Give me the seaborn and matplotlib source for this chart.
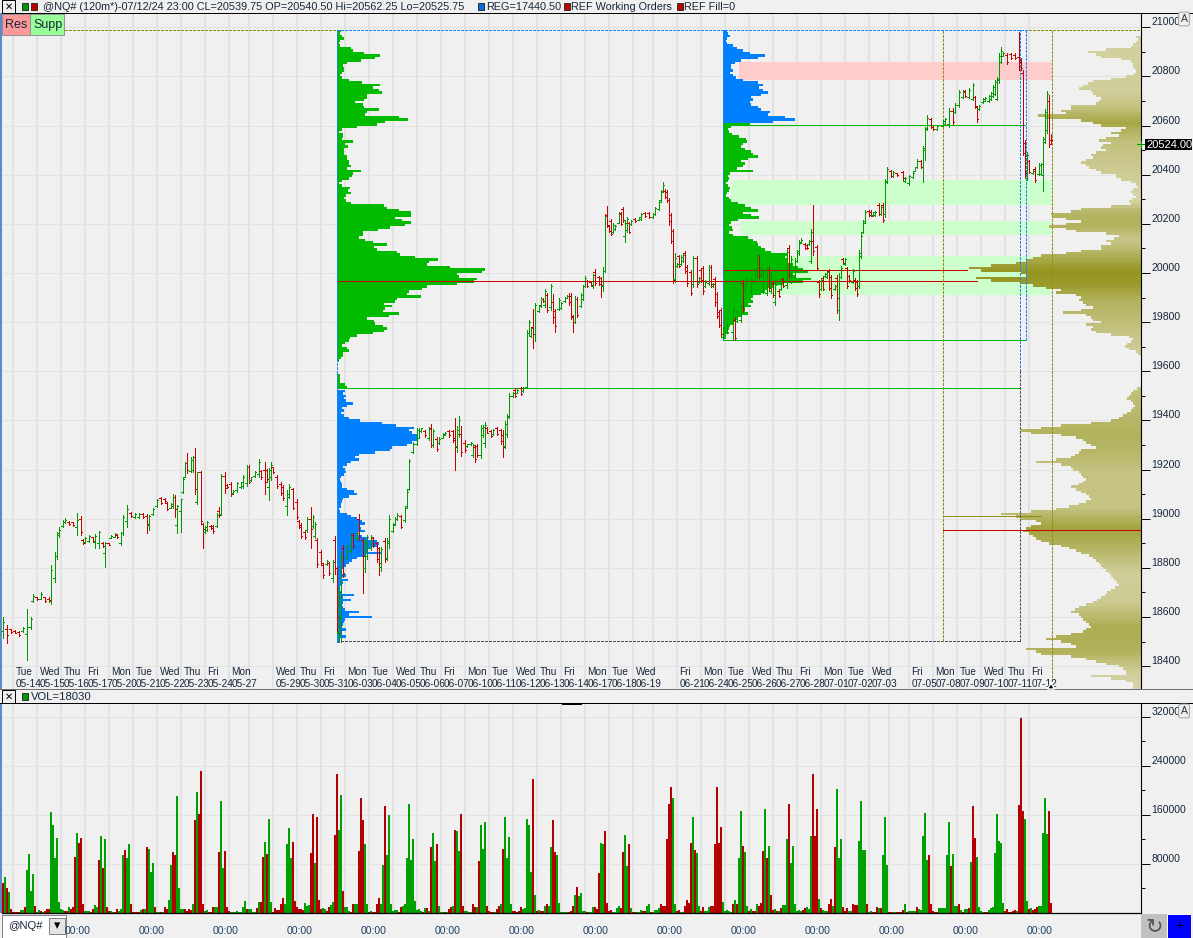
import numpy as np
import pandas as pd
import matplotlib
matplotlib.use("Agg")
import matplotlib.pyplot as plt
import seaborn as sns
from matplotlib.patches import Rectangle

# ---- price bars (2 hour bars, bar number along the time axis) ----
bar_index = [
    1, 3, 5, 7, 9, 11, 13, 15, 16, 18,
    20, 22, 24, 25, 27, 28, 29, 31, 32, 34,
    36, 38, 40, 41, 42, 44, 46, 47, 49, 51,
    52, 54, 55, 57, 58, 60, 61, 63, 65, 67,
    69, 71, 73, 74, 76, 78, 80, 82, 83, 85,
    86, 87, 88, 90, 91, 92, 93, 95, 96, 97,
    98, 100, 101, 102, 103, 105, 106, 108, 109, 110,
    112, 113, 115, 116, 118, 120, 121, 123, 124, 125,
    127, 129, 130, 132, 133, 134, 135, 136, 138, 140,
    141, 143, 144, 146, 148, 149, 150, 152, 153, 155,
    156, 157, 158, 160, 161, 163, 164, 166, 167, 168,
    169, 170, 171, 173, 175, 176, 178, 179, 181, 182,
    183, 185, 186, 188, 189, 190, 192, 193, 194, 196,
    197, 198, 200, 202, 203, 204, 206, 208, 209, 210,
    212, 214, 215, 216, 218, 219, 221, 222, 224, 226,
    227, 228, 229, 230, 232, 233, 235, 236, 237, 238,
    240, 241, 242, 243, 245, 246, 248, 250, 251, 252,
    253, 254, 256, 257, 258, 260, 261, 263, 264, 265,
    266, 267, 269, 270, 271, 272, 273, 275, 276, 277,
    279, 280, 282, 283, 284, 285, 286, 287, 288, 290,
    291, 292, 293, 295, 296, 297, 299, 300, 301, 302,
    303, 304, 305, 306, 307, 309, 310, 311, 312, 313,
    314, 315, 317, 319, 320, 322, 324, 326, 327, 329,
    330, 331, 332, 333, 334, 335, 336, 337, 338, 339,
    340, 341, 342, 343, 345, 346, 348, 349, 350, 351,
    352, 354, 355, 356, 357, 358, 359, 360, 361, 363,
    366, 367, 368, 370, 371, 372, 373, 375, 377, 378,
    379, 380, 381, 383, 384, 385, 386, 387, 389, 390,
    391, 393, 394, 395, 397, 398, 399, 400, 402, 403,
    404, 405, 406, 408, 409, 410, 411, 412, 413, 414,
    415, 417, 418, 419, 420, 421, 422, 423, 424, 426,
    427, 428, 429, 430, 431, 432, 434, 435, 436, 437,
    439, 440, 441, 442, 443, 445, 446, 448, 451, 452,
    454, 456, 457, 458, 460, 461, 462, 463, 465, 466,
    468, 471, 472, 474, 476, 477, 479, 481, 482, 484,
    486, 487, 488, 489, 491, 492, 494, 495, 496, 497,
    498, 499, 500, 501, 503, 505, 507, 509, 510, 511,
    512, 513, 514, 516, 517, 519, 520, 521, 522, 523,
    524, 525,
]
bar_high = [
    18601, 18567, 18553, 18547, 18544, 18560, 18631, 18601, 18693, 18682,
    18703, 18682, 18682, 18811, 18866, 18947, 18967, 18994, 19001, 18992,
    18988, 19022, 19011, 18916, 18927, 18933, 18927, 18938, 18951, 18906,
    18906, 18902, 18933, 18940, 18938, 18947, 19015, 19056, 19028, 19022,
    19022, 19022, 19019, 19015, 19042, 19079, 19087, 19083, 19069, 19062,
    19099, 19096, 19056, 19080, 19171, 19232, 19266, 19252, 19255, 19286,
    19191, 19195, 18981, 18970, 18992, 18974, 18974, 19022, 19046, 19182,
    19191, 19141, 19151, 19117, 19151, 19151, 19178, 19218, 19218, 19171,
    19195, 19241, 19198, 19232, 19202, 19205, 19229, 19212, 19178, 19151,
    19137, 19117, 19141, 19127, 19079, 18994, 18984, 18954, 19008, 19046,
    19015, 18988, 18920, 18872, 18818, 18832, 18825, 18834, 18929, 18805,
    18723, 18866, 18893, 18899, 18940, 18940, 18947, 19019, 18920, 18913,
    18933, 18933, 18927, 18906, 18886, 18886, 18920, 18920, 19015, 18981,
    19008, 19022, 19015, 19051, 19119, 19245, 19313, 19368, 19368, 19371,
    19361, 19374, 19385, 19367, 19333, 19333, 19347, 19354, 19361, 19363,
    19408, 19377, 19418, 19377, 19320, 19306, 19313, 19306, 19300, 19304,
    19381, 19381, 19394, 19374, 19361, 19367, 19374, 19367, 19361, 19398,
    19428, 19510, 19517, 19530, 19530, 19537, 19537, 19768, 19808, 19781,
    19852, 19876, 19869, 19903, 19897, 19933, 19917, 19955, 19914, 19852,
    19897, 19883, 19903, 19910, 19917, 19917, 19829, 19906, 19903, 19917,
    19951, 19987, 19971, 19964, 19996, 20015, 19987, 19985, 20023, 20240,
    20272, 20195, 20218, 20202, 20195, 20249, 20249, 20270, 20215, 20229,
    20209, 20215, 20222, 20229, 20245, 20249, 20249, 20243, 20270, 20297,
    20338, 20371, 20340, 20338, 20304, 20243, 20177, 20080, 20039, 20073,
    20073, 20080, 20089, 20032, 20012, 20069, 20069, 19985, 20019, 20028,
    19971, 20032, 20032, 19958, 19985, 19924, 19849, 19856, 19782, 19802,
    19863, 19822, 19849, 19870, 19972, 19978, 19985, 19978, 20019, 20073,
    20073, 20026, 20012, 20026, 20026, 20006, 19965, 19958, 19931, 19978,
    19978, 20100, 20114, 20069, 20060, 20094, 20134, 20141, 20121, 20114,
    20134, 20178, 20277, 20114, 19972, 19978, 19985, 20000, 20012, 20015,
    19992, 19951, 19992, 20000, 20029, 20060, 20060, 20026, 19992, 20015,
    19978, 19972, 20094, 20162, 20216, 20257, 20257, 20257, 20250, 20254,
    20284, 20277, 20284, 20381, 20433, 20419, 20413, 20408, 20413, 20392,
    20399, 20413, 20433, 20463, 20460, 20517, 20596, 20643, 20630, 20598,
    20603, 20623, 20630, 20670, 20670, 20691, 20745, 20745, 20745, 20752,
    20772, 20721, 20680, 20684, 20711, 20715, 20725, 20738, 20765, 20786,
    20799, 20894, 20919, 20901, 20894, 20894, 20894, 20982, 20874, 20826,
    20541, 20494, 20460, 20419, 20433, 20446, 20449, 20555, 20666, 20742,
    20725, 20566,
]
bar_low = [
    18513, 18495, 18533, 18533, 18522, 18540, 18427, 18553, 18662, 18669,
    18672, 18662, 18662, 18653, 18743, 18838, 18927, 18967, 18981, 18974,
    18970, 18933, 18933, 18897, 18902, 18906, 18906, 18879, 18879, 18886,
    18805, 18893, 18920, 18924, 18920, 18893, 18933, 18967, 19008, 19001,
    19001, 19001, 18940, 18956, 19015, 19049, 19060, 19069, 19035, 19042,
    19042, 19005, 18943, 18947, 19103, 19168, 19187, 19191, 19191, 19099,
    19060, 18981, 18882, 18940, 18951, 18960, 18943, 18965, 19008, 19015,
    19103, 19127, 19092, 19100, 19110, 19123, 19127, 19133, 19144, 19155,
    19171, 19171, 19160, 19100, 19151, 19076, 19157, 19184, 19127, 19096,
    19076, 19015, 19083, 19038, 18997, 18961, 18920, 18916, 18947, 18879,
    18961, 18920, 18805, 18811, 18760, 18811, 18770, 18743, 18777, 18533,
    18506, 18499, 18764, 18838, 18859, 18879, 18913, 18913, 18696, 18784,
    18838, 18872, 18886, 18825, 18770, 18788, 18825, 18832, 18879, 18947,
    18974, 18994, 18961, 18988, 19042, 19117, 19266, 19300, 19327, 19354,
    19333, 19320, 19293, 19293, 19276, 19304, 19327, 19340, 19333, 19313,
    19198, 19272, 19333, 19255, 19272, 19293, 19300, 19252, 19232, 19252,
    19249, 19333, 19293, 19347, 19333, 19340, 19340, 19306, 19252, 19286,
    19333, 19408, 19496, 19496, 19510, 19503, 19517, 19530, 19747, 19740,
    19693, 19724, 19842, 19863, 19883, 19863, 19842, 19849, 19795, 19761,
    19849, 19852, 19883, 19897, 19869, 19811, 19761, 19795, 19822, 19860,
    19890, 19941, 19944, 19951, 19937, 19951, 19951, 19903, 19928, 20005,
    20186, 20168, 20154, 20161, 20175, 20202, 20195, 20209, 20127, 20168,
    20161, 20195, 20209, 20215, 20215, 20229, 20222, 20222, 20236, 20256,
    20290, 20331, 20304, 20290, 20195, 20120, 19958, 19964, 20025, 20025,
    20032, 20046, 19998, 19948, 19910, 19944, 19944, 19958, 19964, 19914,
    19941, 19951, 19944, 19944, 19865, 19815, 19781, 19740, 19734, 19755,
    19727, 19727, 19802, 19802, 19843, 19924, 19951, 19917, 19958, 19985,
    19978, 19985, 19917, 19911, 19931, 19917, 19904, 19870, 19904, 19931,
    19944, 19938, 19978, 19958, 19978, 20046, 20073, 20121, 20096, 20096,
    20114, 20039, 20073, 20012, 19904, 19931, 19931, 19985, 19978, 19931,
    19897, 19931, 19836, 19809, 19978, 20039, 20033, 19938, 19965, 19958,
    19931, 19906, 19938, 20060, 20162, 20205, 20230, 20230, 20232, 20232,
    20236, 20236, 20209, 20229, 20368, 20392, 20392, 20395, 20379, 20372,
    20358, 20385, 20413, 20426, 20426, 20372, 20460, 20580, 20589, 20580,
    20582, 20598, 20603, 20596, 20607, 20650, 20677, 20711, 20718, 20711,
    20704, 20670, 20616, 20664, 20691, 20698, 20694, 20704, 20718, 20725,
    20702, 20772, 20854, 20881, 20851, 20870, 20870, 20826, 20826, 20480,
    20392, 20379, 20406, 20403, 20372, 20399, 20399, 20335, 20528, 20569,
    20514, 20525,
]
bar_open = [
    18545, 18550, 18550, 18545, 18540, 18545, 18530, 18560, 18665, 18680,
    18675, 18680, 18675, 18665, 18760, 18850, 18935, 18970, 18985, 18988,
    18985, 18965, 19000, 18912, 18905, 18910, 18925, 18905, 18900, 18903,
    18860, 18900, 18922, 18926, 18935, 18900, 18940, 18990, 19025, 19005,
    19008, 19020, 19012, 18975, 19018, 19052, 19085, 19080, 19065, 19045,
    19050, 19090, 18975, 19030, 19110, 19170, 19225, 19195, 19200, 19250,
    19070, 19190, 18980, 18945, 18955, 18972, 18970, 18970, 19030, 19020,
    19175, 19138, 19140, 19103, 19115, 19128, 19135, 19145, 19212, 19158,
    19175, 19180, 19195, 19200, 19198, 19130, 19170, 19210, 19170, 19140,
    19130, 19050, 19090, 19120, 19070, 18990, 18975, 18945, 18955, 19000,
    18970, 18930, 18915, 18865, 18810, 18815, 18820, 18760, 18915, 18800,
    18540, 18600, 18880, 18845, 18870, 18935, 18920, 19000, 18915, 18800,
    18850, 18880, 18920, 18900, 18880, 18805, 18910, 18840, 18900, 18950,
    18978, 18998, 19010, 18995, 19050, 19120, 19270, 19305, 19330, 19358,
    19358, 19330, 19370, 19300, 19325, 19308, 19330, 19343, 19355, 19355,
    19330, 19295, 19345, 19345, 19310, 19296, 19302, 19260, 19290, 19295,
    19260, 19340, 19310, 19370, 19358, 19343, 19370, 19360, 19340, 19295,
    19345, 19415, 19500, 19525, 19512, 19532, 19520, 19535, 19755, 19745,
    19780, 19750, 19845, 19870, 19895, 19870, 19910, 19860, 19880, 19845,
    19855, 19858, 19886, 19899, 19905, 19905, 19820, 19800, 19895, 19865,
    19895, 19945, 19968, 19962, 19945, 20005, 19985, 19980, 19945, 20010,
    20235, 20193, 20210, 20165, 20178, 20205, 20245, 20262, 20150, 20175,
    20205, 20198, 20220, 20217, 20218, 20246, 20245, 20226, 20240, 20260,
    20295, 20335, 20335, 20330, 20295, 20235, 20170, 19975, 20028, 20068,
    20036, 20050, 20080, 20025, 20005, 19955, 20060, 19962, 20012, 20020,
    19945, 19958, 20025, 19946, 19975, 19915, 19840, 19850, 19740, 19760,
    19760, 19810, 19806, 19810, 19960, 19930, 19955, 19925, 19965, 19990,
    20060, 19990, 19925, 19920, 20015, 19925, 19958, 19880, 19928, 19936,
    19975, 19950, 20100, 19965, 19985, 20050, 20080, 20124, 20118, 20112,
    20116, 20050, 20130, 20105, 19965, 19935, 19980, 19988, 19982, 20008,
    19985, 19934, 19980, 19850, 19985, 20055, 20036, 20020, 19988, 19963,
    19972, 19965, 19945, 20070, 20165, 20210, 20252, 20250, 20235, 20236,
    20278, 20240, 20275, 20240, 20375, 20415, 20395, 20406, 20410, 20375,
    20365, 20390, 20415, 20430, 20455, 20430, 20500, 20590, 20625, 20595,
    20585, 20600, 20606, 20605, 20660, 20655, 20685, 20715, 20740, 20716,
    20710, 20715, 20675, 20667, 20694, 20700, 20698, 20708, 20722, 20730,
    20710, 20785, 20860, 20885, 20888, 20890, 20888, 20880, 20868, 20815,
    20530, 20385, 20455, 20405, 20425, 20403, 20404, 20400, 20535, 20580,
    20700, 20541,
]
bar_close = [
    18580, 18525, 18540, 18535, 18525, 18555, 18560, 18590, 18685, 18672,
    18695, 18665, 18668, 18790, 18850, 18940, 18955, 18985, 18995, 18978,
    18975, 18995, 18945, 18900, 18920, 18928, 18910, 18930, 18945, 18890,
    18900, 18895, 18930, 18936, 18925, 18940, 19005, 19040, 19010, 19018,
    19018, 19005, 18980, 19010, 19038, 19075, 19065, 19072, 19040, 19058,
    19090, 19040, 19050, 19080, 19160, 19225, 19200, 19240, 19250, 19120,
    19190, 18990, 18960, 18965, 18985, 18962, 18950, 19015, 19015, 19175,
    19125, 19130, 19100, 19113, 19145, 19148, 19170, 19210, 19150, 19168,
    19190, 19230, 19170, 19150, 19160, 19200, 19220, 19190, 19135, 19105,
    19085, 19100, 19130, 19045, 19005, 18965, 18930, 18925, 19000, 18960,
    19005, 18980, 18815, 18820, 18770, 18828, 18780, 18825, 18800, 18600,
    18700, 18840, 18780, 18890, 18930, 18890, 18940, 18925, 18850, 18900,
    18925, 18925, 18892, 18835, 18820, 18878, 18835, 18910, 19000, 18975,
    19000, 19015, 18965, 19045, 19110, 19235, 19305, 19360, 19355, 19368,
    19340, 19365, 19300, 19355, 19285, 19325, 19342, 19350, 19340, 19320,
    19290, 19360, 19400, 19270, 19280, 19303, 19310, 19300, 19245, 19260,
    19370, 19375, 19380, 19350, 19338, 19362, 19345, 19315, 19290, 19385,
    19420, 19500, 19513, 19500, 19525, 19508, 19533, 19755, 19800, 19775,
    19750, 19870, 19865, 19895, 19885, 19925, 19850, 19945, 19820, 19785,
    19890, 19878, 19900, 19907, 19880, 19825, 19800, 19895, 19830, 19910,
    19945, 19980, 19948, 19953, 19990, 19960, 19955, 19950, 20010, 20230,
    20195, 20172, 20160, 20195, 20190, 20240, 20200, 20215, 20205, 20220,
    20168, 20212, 20211, 20226, 20240, 20232, 20226, 20240, 20265, 20290,
    20330, 20360, 20310, 20298, 20210, 20130, 19970, 20060, 20036, 20030,
    20066, 20075, 20010, 19960, 19920, 20060, 19955, 19980, 19970, 19925,
    19965, 20025, 19955, 19955, 19880, 19825, 19790, 19750, 19775, 19795,
    19850, 19735, 19845, 19860, 19855, 19970, 19980, 19970, 20010, 20060,
    19990, 20020, 20005, 20015, 19940, 19995, 19912, 19950, 19908, 19972,
    19948, 20085, 19990, 20055, 20050, 20088, 20125, 20136, 20100, 20100,
    20130, 20165, 20090, 20020, 19915, 19970, 19935, 19997, 20005, 19940,
    19910, 19948, 19900, 19985, 20020, 20042, 20055, 19945, 19970, 20008,
    19938, 19915, 20080, 20150, 20205, 20250, 20235, 20233, 20247, 20250,
    20242, 20270, 20215, 20370, 20425, 20396, 20410, 20397, 20385, 20388,
    20395, 20408, 20430, 20455, 20430, 20510, 20585, 20630, 20595, 20585,
    20598, 20618, 20625, 20660, 20615, 20685, 20735, 20738, 20722, 20745,
    20765, 20680, 20625, 20680, 20706, 20712, 20720, 20732, 20758, 20778,
    20790, 20885, 20905, 20897, 20860, 20875, 20873, 20860, 20835, 20490,
    20405, 20480, 20412, 20416, 20380, 20440, 20444, 20545, 20655, 20730,
    20525, 20540,
]

# ---- volume, in thousands, one row per session, first bar is bar 1 ----
volume_k = [
    49, 59, 41, 35, 6, 2, 2, 2, 2, 5, 5, 9,
    70, 96, 36, 63, 12, 2, 5, 3, 2, 4, 7, 7,
    165, 143, 90, 123, 18, 7, 5, 4, 4, 9, 7, 9,
    92, 131, 115, 123, 14, 3, 3, 3, 2, 7, 13, 9,
    87, 126, 74, 121, 10, 4, 4, 2, 2, 7, 4, 7,
    94, 103, 89, 113, 14, 2, 2, 2, 1, 5, 7, 7,
    108, 105, 67, 82, 9, 2, 2, 2, 1, 10, 7, 22,
    79, 100, 94, 191, 41, 7, 7, 7, 3, 7, 5, 15,
    152, 198, 162, 231, 14, 3, 5, 2, 2, 10, 10, 10,
    100, 183, 74, 102, 10, 4, 2, 1, 1, 3,
    2, 2, 10, 20, 7, 7, 7, 2, 2, 8, 18, 18,
    92, 116, 97, 154, 18, 2, 8, 5, 5, 15, 24, 14,
    112, 138, 89, 116, 20, 10, 7, 7, 5, 16, 12, 13,
    98, 162, 81, 156, 22, 7, 8, 7, 3, 10, 13, 18,
    128, 227, 136, 193, 36, 10, 10, 3, 2, 15, 14, 14,
    102, 188, 151, 112, 15, 2, 4, 2, 2, 14, 25, 15,
    79, 174, 94, 160, 14, 3, 5, 5, 2, 10, 12, 15,
    89, 178, 87, 121, 20, 5, 7, 3, 2, 8, 8, 3,
    107, 131, 85, 113, 12, 2, 2, 1, 2, 7, 10, 12,
    136, 134, 102, 162, 12, 4, 3, 1, 1, 14, 10, 10,
    85, 143, 105, 149, 12, 3, 2, 2, 1, 7, 11, 15,
    105, 157, 89, 124, 14, 3, 3, 2, 3, 9, 7, 8,
    154, 144, 67, 219, 30, 3, 5, 4, 4, 12, 14, 12,
    107, 151, 100, 95, 17, 1, 1, 1, 1, 2, 3, 12,
    30, 43, 28, 33, 4, 4, 2, 1, 1, 10, 10, 7,
    66, 115, 113, 134, 17, 3, 5, 2, 1, 8, 11, 8,
    100, 128, 77, 112, 8, 2, 2, 1, 1, 5,
    3, 3, 12, 14, 2, 1, 5, 5, 8, 14, 12, 11,
    121, 178, 205, 187, 14, 3, 5, 2, 2, 12, 22, 16,
    115, 156, 103, 98, 12, 3, 10, 3, 3, 10, 12, 11,
    113, 206, 115, 141, 18, 3, 5, 3, 1, 15, 22, 15,
    89, 167, 110, 100, 12, 3, 7, 3, 3, 15, 12, 17,
    102, 170, 89, 110, 30, 5, 7, 3, 3, 8, 13, 13,
    121, 178, 82, 110, 14, 3, 5, 3, 5, 8, 10, 7,
    126, 227, 126, 169, 23, 8, 5, 3, 3, 15, 23, 12,
    107, 203, 90, 121, 10, 4, 8, 3, 3, 14, 13, 13,
    118, 183, 103, 103, 15, 2, 3, 2, 2, 10, 8, 8,
    94, 157, 79, 2, 2, 1, 1, 1, 2, 2,
    5, 14, 2, 3, 3, 3, 3, 10, 7, 5,
    125, 164, 87, 94, 14, 3, 2, 2, 8, 8, 8, 8,
    94, 149, 77, 97, 12, 12, 14, 5, 2, 7, 7, 8,
    84, 175, 123, 92, 10, 3, 2, 1, 1, 5, 8, 9,
    98, 162, 118, 115, 17, 3, 6, 2, 2, 3, 5, 4,
    177, 319, 167, 154, 20, 7, 8, 5, 7, 10, 12, 12,
    131, 187, 129, 167, 17,
]
volume_side = (
    "rgrgrrrrrggr" "ggggrggrgrrr" "gggggggrrgrr" "rgrrrgggrrgg" "rgrgrrggrrgg"
    "grggrrrrrgrg" "rgggrggrgrrg" "grrggggrrrrg" "rgrrrggrrrgg" "rggrrrgggg"
    "ggggrggggrgr" "rgrggrrrrrrg" "gggrrrrrrggg" "rrgrrrggrrgg" "rrggrgggrrgg"
    "rrrggrgrrrrg" "grggggggrrgg" "ggggggggrgrg" "rggrgggrgrrg" "rggrrggggrrg"
    "rgggrrrrgrrg" "rggggrrrrrgg" "gggrgrgrrgrg" "grrggggggrrr" "grggggrgggrr"
    "rggrrrrggggr" "rggrgrrggg" "rrggrggggrrr" "rrrggrrggrrr" "rgrggrrgggrr"
    "rrrrgggggrgr" "ggrggrgrrgrr" "rgrgrrgrgrgg" "grggggggrrgg" "grrrgrgggrrg"
    "rgggrrrggrrr" "ggggrggrrrgr" "gggrrggrrr" "rgrggggrgg" "gggrrrrrgggg"
    "ggrgggrgrggr" "grrggggrrggg" "gggggrrrrrrg" "rrrggrgrrrgg" "gggrr"
)

# ---- volume at price profiles, one value per 10 point row ----
profile_a_upper = [
    4, 3, 5, 7, 3, 2, 3, 14, 16, 27, 43, 38, 24, 10, 6, 7, 7, 5, 3, 5,
    12, 25, 43, 36, 42, 45, 30, 30, 27, 18, 26, 27, 42, 30, 28, 62, 71, 48, 40, 20,
    5, 2, 6, 6, 5, 16, 8, 11, 7, 7, 7, 10, 10, 12, 12, 14, 10, 24, 16, 15,
    12, 5, 2, 5, 13, 11, 14, 9, 7, 9, 14, 47, 50, 62, 74, 74, 58, 65, 74, 68,
    53, 41, 26, 26, 22, 28, 36, 50, 37, 40, 60, 63, 78, 101, 92, 90, 113, 148, 145, 120,
    122, 140, 137, 120, 90, 85, 72, 70, 84, 60, 58, 47, 55, 48, 46, 62, 52, 30, 37, 38,
    46, 50, 47, 36, 20, 13, 12, 8, 5, 10, 12, 6, 6, 4, 2, 0, 0, 0, 0, 0,
    3, 3, 3, 3, 8, 10,
]
profile_a_lower = [
    8, 6, 9, 7, 9, 16, 10, 5, 7, 4, 7, 12, 23, 45, 59, 77, 72, 75, 80, 80,
    80, 75, 70, 55, 53, 38, 22, 18, 22, 14, 10, 6, 8, 9, 7, 4, 3, 4, 5, 5,
    10, 17, 20, 12, 6, 5, 4, 4, 2, 3, 10, 14, 20, 25, 28, 22, 24, 28, 20, 25,
    30, 40, 42, 40, 35, 30, 45, 28, 20, 15, 12, 9, 6, 5, 5, 9, 5, 11, 6, 4,
    3, 2, 4, 17, 6, 14, 6, 4, 6, 8, 22, 12, 35, 8, 7, 6, 4, 9, 5, 4,
    9, 3, 3,
]
profile_b_upper = [
    4, 5, 7, 4, 3, 4, 10, 14, 20, 27, 42, 35, 18, 12, 8, 8, 10, 7, 10, 13,
    20, 35, 40, 36, 40, 45, 38, 28, 30, 27, 28, 35, 38, 47, 45, 62, 72, 50, 27,
]
profile_b_lower = [
    27, 8, 5, 6, 9, 16, 23, 24, 20, 18, 22, 28, 30, 35, 25, 18, 22, 20, 14, 30,
    7, 5, 6, 5, 3, 5, 7, 6, 4, 3, 6, 8, 15, 22, 28, 35, 20, 28, 36, 15,
    8, 6, 9, 10, 6, 10, 25, 30, 34, 35, 38, 42, 48, 65, 62, 65, 65, 70, 75, 80,
    85, 70, 72, 88, 80, 60, 50, 45, 42, 38, 30, 28, 30, 25, 28, 22, 22, 25, 18, 15,
    12, 10, 7, 6, 5, 6, 3, 3,
]
profile_all_upper = [
    5, 3, 5, 8, 10, 35, 53, 45, 40, 20, 10, 8, 8, 6, 5, 7, 15, 30, 48, 53,
    58, 62, 50, 48, 45, 40, 42, 45, 70, 70, 80, 75, 103, 95, 60, 48, 40, 15, 20, 30,
    22, 35, 42, 30, 38, 40, 35, 45, 50, 48, 55, 60, 55, 52, 45, 40, 25, 25, 20, 10,
    5, 3, 8, 10, 8, 5, 9, 12, 10, 30, 60, 70, 90, 88, 75, 60, 75, 92, 75, 65,
    35, 22, 27, 35, 30, 40, 40, 60, 75, 100, 108, 115, 125, 150, 172, 160, 120, 115, 165, 150,
    120, 108, 95, 80, 85, 65, 60, 62, 58, 55, 48, 60, 78, 55, 50, 48, 40, 55, 48, 50,
    45, 30, 12, 8, 10, 14, 16, 12, 5, 3,
]
profile_all_lower = [
    0, 0, 0, 0, 0, 0, 0, 0, 0, 0, 0, 4, 8, 10, 12, 14, 10, 8, 6, 8,
    10, 14, 18, 22, 30, 50, 80, 100, 120, 110, 80, 65, 58, 55, 50, 45, 60, 62, 66, 70,
    85, 105, 80, 70, 68, 62, 60, 58, 55, 58, 62, 70, 65, 60, 55, 52, 50, 55, 62, 72,
    85, 110, 140, 125, 120, 105, 100, 110, 115, 118, 112, 108, 105, 100, 92, 80, 72, 65, 60, 52,
    48, 45, 42, 40, 38, 35, 32, 30, 28, 26, 24, 22, 26, 30, 34, 36, 40, 44, 48, 55,
    62, 66, 70, 62, 60, 58, 55, 52, 50, 55, 58, 70, 85, 95, 80, 70, 65, 115, 105, 100,
    70, 55, 45, 35, 22, 18, 15, 15, 50, 30, 15, 8, 8, 8,
]
# how dark the combined profile is drawn at a given price
shade_price = [18305, 18375, 18460, 18560, 18660, 18780, 18880, 18960, 19045, 19185, 19290, 19350,
               19660, 19765, 19890, 19950, 20005, 20075, 20135, 20195, 20245, 20300, 20420, 20540,
               20610, 20680, 20740, 20960]
shade_level = [0.1, 0.2, 0.6, 0.65, 0.25, 0.2, 0.55, 0.8, 0.35, 0.35, 0.55, 0.6,
               0.2, 0.35, 0.6, 0.9, 1.0, 0.6, 0.3, 0.6, 0.55, 0.1, 0.25, 0.4,
               0.75, 0.35, 0.2, 0.15]

# ---- support / resistance zones ----
zone_low = [20784, 20277, 20155, 19910]
zone_high = [20860, 20378, 20212, 20069]
zone_start = [369, 365, 370, 365]
zone_color = ["#ffcccc", "#ccffcc", "#ccffcc", "#ccffcc"]
zone_end = 525.5

# ---- time axis ----
grid_bars = [6, 18, 30, 42, 54, 66, 78, 90, 102, 114, 124, 136, 148, 160, 172, 184, 196, 208, 220, 232,
             244, 256, 268, 280, 292, 304, 316, 326, 338, 350, 362, 374, 386, 398, 410, 422, 434, 444,
             454, 466, 478, 490, 502, 514]
label_bars = [7.5, 19.5, 31.5, 43.5, 55.5, 67.5, 79.5, 91.5, 103.5, 115.5,
              137.5, 149.5, 161.5, 173.5, 185.5, 197.5, 209.5, 221.5, 233.5, 245.5,
              257.5, 269.5, 281.5, 293.5, 305.5, 317.5,
              339.5, 351.5, 363.5, 375.5, 387.5, 399.5, 411.5, 423.5, 435.5,
              455.5, 467.5, 479.5, 491.5, 503.5, 515.5]
day_names = ["Tue", "Wed", "Thu", "Fri", "Mon", "Tue", "Wed", "Thu", "Fri", "Mon",
             "Wed", "Thu", "Fri", "Mon", "Tue", "Wed", "Thu", "Fri", "Mon", "Tue",
             "Wed", "Thu", "Fri", "Mon", "Tue", "Wed",
             "Fri", "Mon", "Tue", "Wed", "Thu", "Fri", "Mon", "Tue", "Wed",
             "Fri", "Mon", "Tue", "Wed", "Thu", "Fri"]
day_dates = ["05-14", "05-15", "05-16", "05-17", "05-20", "05-21", "05-22", "05-23", "05-24", "05-27",
             "05-29", "05-30", "05-31", "06-03", "06-04", "06-05", "06-06", "06-07", "06-10", "06-11",
             "06-12", "06-13", "06-14", "06-17", "06-18", "06-19",
             "06-21", "06-24", "06-25", "06-26", "06-27", "06-28", "07-01", "07-02", "07-03",
             "07-05", "07-08", "07-09", "07-10", "07-11", "07-12"]
time_tick_bars = [31.5, 68.5, 105.5, 142.5, 179.5, 216.5, 253.5, 290.5, 327.5, 364.5,
                  401.5, 438.5, 475.5, 512.5]

WIDTH, HEIGHT = 1193, 938
GREEN, RED = "#009900", "#c80000"
BACK, GRID = "#f0f0f0", "#e2e2e2"
TEXT = "#16263a"
XLIM = (0.75, 570.25)
THIN = 0.7  # one pixel at 100 dpi

sns.set_theme(style="white", rc={"axes.facecolor": BACK, "figure.facecolor": BACK})
plt.rcParams["font.family"] = ["Liberation Sans", "DejaVu Sans"]

fig = plt.figure(figsize=(WIDTH / 100, HEIGHT / 100), dpi=100)


def axes_at(left, top, right, bottom):
    return fig.add_axes([left / WIDTH, 1 - bottom / HEIGHT, (right - left) / WIDTH, (bottom - top) / HEIGHT])


def box(left, top, w, h, color, edge="none", lw=0.7, z=5):
    fig.add_artist(Rectangle((left / WIDTH, 1 - (top + h) / HEIGHT), w / WIDTH, h / HEIGHT,
                             transform=fig.transFigure, fc=color, ec=edge, lw=lw, zorder=z))


def label(px, py, text, size=8, color=TEXT, **kw):
    kw.setdefault("va", "center")
    fig.text(px / WIDTH, 1 - py / HEIGHT, text, fontsize=size, color=color, zorder=7, **kw)


def style_axis(ax):
    ax.set_xlim(*XLIM)
    ax.set_facecolor(BACK)
    ax.yaxis.tick_right()
    for side in ("top", "left", "bottom"):
        ax.spines[side].set_visible(False)
    ax.spines["right"].set_color("black")
    ax.spines["right"].set_linewidth(0.8)
    ax.tick_params(axis="y", which="major", length=6.5, width=0.7, color="black", labelsize=7.6,
                   labelcolor=TEXT, pad=1, direction="out")
    ax.tick_params(axis="y", which="minor", length=3, width=0.7, color="black", direction="out")
    ax.vlines(grid_bars, 0, 1, transform=ax.get_xaxis_transform(), color=GRID, lw=1.45, zorder=0.5)


# ---- price panel ----
ax = axes_at(2, 13, 1141, 689)
ax.set_ylim(18307, 21058)
style_axis(ax)
major_prices = list(range(18400, 21001, 200))
ax.set_yticks(major_prices)
ax.set_yticks([p + 100 for p in major_prices[:-1]], minor=True)
for tick_label in ax.get_yticklabels():
    tick_label.set_va("bottom")
ax.hlines(major_prices, *XLIM, color=GRID, lw=0.8, zorder=0.6)

for low, high, start, color in zip(zone_low, zone_high, zone_start, zone_color):
    ax.fill_between([start, zone_end], low, high, color=color, lw=0, zorder=1)


def draw_profile(values, top_price, start_bar, color):
    prices = top_price - 10 * np.arange(len(values))
    ax.barh(prices, np.array(values) / 2, height=10.5, left=start_bar, color=color, lw=0, zorder=2,
            antialiased=False)


draw_profile(profile_a_upper, 20985, 168, "#00bb00")
draw_profile(profile_a_lower, 19520, 168, "#0080ff")
draw_profile(profile_b_upper, 20985, 361, "#0080ff")
draw_profile(profile_b_lower, 20605, 361, "#00bb00")

light = np.array(matplotlib.colors.to_rgb("#dedcb8"))
dark = np.array(matplotlib.colors.to_rgb("#94941e"))
for values, top_price in ((profile_all_upper, 20960), (profile_all_lower, 19640)):
    row_prices = top_price - 10 * np.arange(len(values))
    shades = np.interp(row_prices, shade_price, shade_level)
    row_colors = [light + (dark - light) * s for s in shades]
    ax.barh(row_prices, -np.array(values) / 2, height=10.5, left=570.25, color=row_colors, lw=0, zorder=2,
            antialiased=False)

# drawn levels and their dashed boxes
dash = (0, (3, 2))
ax.hlines([20602, 19727], 361, 512, color="#00bb00", lw=THIN, zorder=3, antialiased=False)
ax.hlines(19532, 168, 509, color="#00bb00", lw=THIN, zorder=3, antialiased=False)
ax.hlines(19969, 168, 488, color="#cc0000", lw=THIN, zorder=3, antialiased=False)
ax.hlines(20011, 361, 483, color="#cc0000", lw=THIN, zorder=3, antialiased=False)
ax.hlines(18954, 471, 570, color="#cc0000", lw=THIN, zorder=3, antialiased=False)
ax.hlines(19011, 471, 520, color="#8f8f1a", lw=THIN, zorder=3, antialiased=False)
ax.hlines(20989, 32, 570, color="#8f8f1a", lw=THIN, linestyles=dash, zorder=3, antialiased=False)
ax.hlines(20989, 168, 513, color="#1e82f0", lw=THIN, linestyles=dash, zorder=3.1, antialiased=False)
ax.hlines(18502, 168, 510, color="#505050", lw=THIN, linestyles=dash, zorder=3, antialiased=False)
ax.vlines(168, 18502, 20989, color="#1e82f0", lw=THIN, linestyles=dash, zorder=3, antialiased=False)
ax.vlines(361, 19727, 20989, color="#1e82f0", lw=THIN, linestyles=dash, zorder=3, antialiased=False)
ax.vlines(471, 18502, 20989, color="#8f8f1a", lw=THIN, linestyles=dash, zorder=3, antialiased=False)
ax.vlines(509.5, 19600, 20989, color="#1e82f0", lw=THIN, linestyles=dash, zorder=3, antialiased=False)
ax.vlines(509.5, 18502, 19600, color="#505050", lw=THIN, linestyles=dash, zorder=3, antialiased=False)
ax.vlines(512.5, 19727, 20989, color="#1e82f0", lw=THIN, linestyles=dash, zorder=3, antialiased=False)
ax.vlines(525.5, 18340, 20989, color="#8f8f1a", lw=THIN, linestyles=dash, zorder=3, antialiased=False)

bars = pd.DataFrame({"bar": bar_index, "open": bar_open, "high": bar_high, "low": bar_low, "close": bar_close})
bar_colors = np.where(bars["close"] >= bars["open"], GREEN, RED)
ax.vlines(bars["bar"], bars["low"], bars["high"], colors=bar_colors, lw=THIN, zorder=4, antialiased=False)
ax.hlines(bars["open"], bars["bar"] - 0.9, bars["bar"], colors=bar_colors, lw=THIN, zorder=4, antialiased=False)
ax.hlines(bars["close"], bars["bar"], bars["bar"] + 0.9, colors=bar_colors, lw=THIN, zorder=4, antialiased=False)

for bar, name, date in zip(label_bars, day_names, day_dates):
    ax.text(bar, 18376, name, fontsize=7.2, color=TEXT, va="center", ha="left", zorder=6)
    ax.text(bar, 18329, date, fontsize=7.2, color=TEXT, va="center", ha="left", zorder=6)

# ---- volume panel ----
ax_vol = axes_at(2, 703, 1141, 913)
volume_df = pd.DataFrame({"bar": np.arange(1, len(volume_k) + 1), "volume": np.array(volume_k) * 1000,
                          "side": list(volume_side)})
sns.barplot(data=volume_df, x="bar", y="volume", hue="side", palette={"g": "#00a000", "r": "#b40000"},
            native_scale=True, dodge=False, width=1, saturation=1, errorbar=None, linewidth=0,
            legend=False, ax=ax_vol)
for patch in ax_vol.patches:
    patch.set_antialiased(False)
style_axis(ax_vol)
ax_vol.set_ylim(0, 342800)
ax_vol.set_xlabel("")
ax_vol.set_ylabel("")
ax_vol.set_yticks([80000, 160000, 240000, 320000], labels=["80000", "160000", "240000", "32000"])
ax_vol.set_yticks([40000, 120000, 200000, 280000], minor=True)
for tick_label in ax_vol.get_yticklabels():
    tick_label.set_va("bottom")
ax_vol.hlines([80000, 160000, 240000, 320000], *XLIM, color=GRID, lw=0.8, zorder=0.6)
ax_vol.spines["bottom"].set_visible(True)
ax_vol.spines["bottom"].set_color("black")
ax_vol.spines["bottom"].set_linewidth(0.9)
ax_vol.set_xticks(time_tick_bars + [b + 0.75 for b in time_tick_bars], labels=[])
ax_vol.tick_params(axis="x", length=5, width=0.7, color="black", direction="out")
ax_vol.set_xlim(*XLIM)
for bar in time_tick_bars:
    label(2 * bar + 1.5, 931, "00:00", size=7.6, color="#1d3f66", ha="left")

# ---- window furniture around the panels ----
box(0, 0, WIDTH, 13, BACK)
box(0, 13, WIDTH, 0.8, "black")
box(0, 13, 2, 900, "#5b8cc8")
box(2, 0, 13, 13, BACK, edge="black")
label(8.5, 6.5, "✕", size=7, color="black", ha="center")
box(22, 3, 6, 7, GREEN, edge="#303030")
box(31, 3, 6, 7, "#c00000", edge="#303030")
label(43, 7, "@NQ# (120m*)-07/12/24 23:00 CL=20539.75 OP=20540.50 Hi=20562.25 Lo=20525.75", size=7.85)
box(478, 3, 6, 7, "#0070e0", edge="#303030")
label(486, 7, "REG=17440.50", size=7.85)
box(564, 3, 6, 7, "#c00000", edge="#303030")
label(571, 7, "REF Working Orders", size=7.85)
box(677, 3, 6, 7, "#c00000", edge="#303030")
label(684, 7, "REF Fill=0", size=7.85)

box(2, 14, 28, 21, "#ff9999", edge="#909090")
box(30, 14, 34, 21, "#99ff99", edge="#909090")
label(5, 25, "Res", size=9)
label(33, 25, "Supp", size=9)

box(0, 689, WIDTH, 14, BACK)
box(0, 689, WIDTH, 0.8, "#707070")
box(0, 703, WIDTH, 0.9, "black")
box(2, 690, 13, 13, BACK, edge="black")
label(8.5, 696.5, "✕", size=7, color="black", ha="center")
box(22, 693, 6, 7, GREEN, edge="#303030")
label(31, 697, "VOL=18030", size=8.1)
fig.add_artist(plt.Polygon([(1047.5 / WIDTH, 1 - 689 / HEIGHT), (1054.5 / WIDTH, 1 - 689 / HEIGHT),
                            (1051 / WIDTH, 1 - 683 / HEIGHT)], transform=fig.transFigure, fc="black", zorder=6))
box(562, 703, 20, 2, "black")

box(1145, 139.5, 47, 11, "black")
label(1146, 145, "20524.00", size=8, color="white")
box(1137, 144, 8, 1.4, GREEN, z=6)
box(1141, 141, 1.4, 8, GREEN, z=6)

for top in (13, 705):
    label(1184, top + 6, "A", size=7.5, color="#303030", ha="center",
          bbox=dict(boxstyle="round,pad=0.18", fc=BACK, ec="#a0a0a0", lw=0.7))

box(2, 915, 64, 23, "white", edge="#808080")
label(8, 926, "@NQ#", size=8.1)
box(49, 918, 16, 16, "#e4e4e4", edge="#808080")
label(57, 926, "▾", size=9, color="black", ha="center", family="DejaVu Sans")
box(1141, 914, 26, 24, "#c0c0c0")
label(1154, 926, "↻", size=15, color="#555555", ha="center", family="DejaVu Sans")
box(1167, 914, 24, 24, "#0000ff", edge="white")
label(1179, 926, "+", size=10, color="black", ha="center")

fig.savefig("out.png", dpi=100, facecolor=BACK)
